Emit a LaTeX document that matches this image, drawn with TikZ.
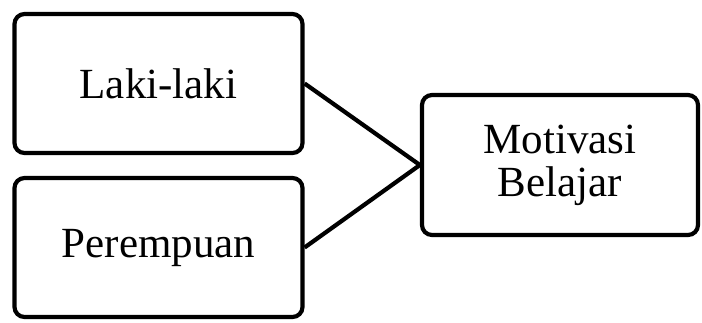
\documentclass[tikz,border=0pt]{standalone}
\usepackage{fontspec}
\setmainfont{Liberation Serif}
\begin{document}
\begin{tikzpicture}[x=1pt,y=-1pt,
  box/.style={draw=black,line width=4.2pt,rounded corners=10pt,
    inner sep=0pt,align=center,font=\fontsize{43}{43}\selectfont},
  link/.style={draw=black,line width=4.2pt}]
  \useasboundingbox (0,0) rectangle (702,322);
  \node[box,minimum width=288pt,minimum height=139pt] (laki) at (158.5,83.5) {Laki-laki};
  \node[box,minimum width=288pt,minimum height=139pt] (perempuan) at (158.5,247.5) {Perempuan};
  \node[box,minimum width=276pt,minimum height=140pt] (motivasi) at (560,165) {Motivasi\\Belajar};
  \draw[link] (laki.east) -- (motivasi.west);
  \draw[link] (perempuan.east) -- (motivasi.west);
\end{tikzpicture}
\end{document}
